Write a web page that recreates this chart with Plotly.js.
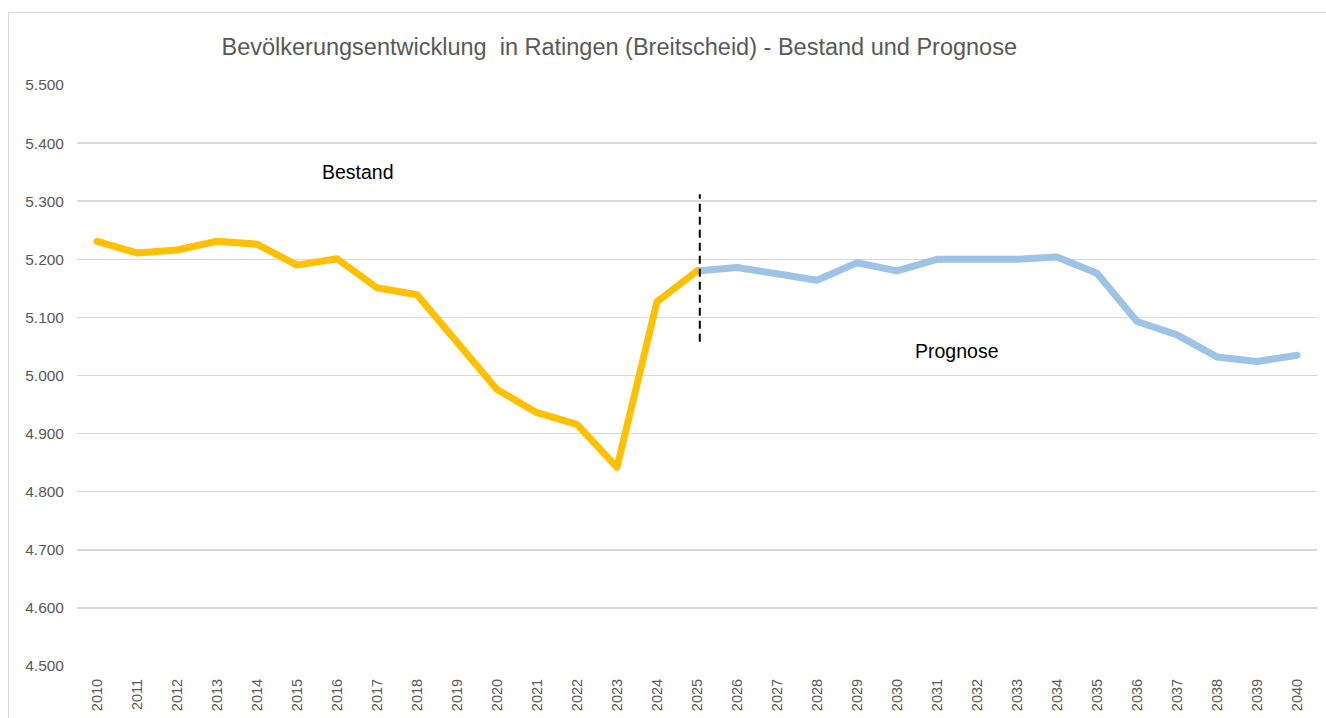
<!DOCTYPE html>
<html>
<head>
<meta charset="utf-8">
<script src="https://cdn.plot.ly/plotly-3.0.1.min.js"></script>
<style>
  html, body { margin: 0; padding: 0; background: #ffffff; overflow: hidden; }
  #wrap { position: relative; width: 1326px; height: 718px; }
  #chart { position: absolute; left: 0; top: 0; width: 1326px; height: 718px; }
  #frame { position: absolute; left: 8px; top: 12px; width: 1400px; height: 800px;
           border: 1.5px solid #d9d9d9; pointer-events: none; box-sizing: border-box; }
  .scatterlayer path.js-line { stroke-linejoin: round; stroke-linecap: round; }
</style>
</head>
<body>
<div id="wrap">
  <div id="chart"></div>
  <div id="frame"></div>
</div>
<script>
// ---- data ----
const years = ['2010','2011','2012','2013','2014','2015','2016','2017','2018','2019',
               '2020','2021','2022','2023','2024','2025','2026','2027','2028','2029',
               '2030','2031','2032','2033','2034','2035','2036','2037','2038','2039','2040'];
const bestandYears = years.slice(0, 16);
const bestandValues = [5231, 5211, 5216, 5231, 5226, 5190, 5201, 5151, 5139, 5058,
                       4976, 4936, 4916, 4842, 5127, 5180];
const prognoseYears = years.slice(15);
const prognoseValues = [5180, 5186, 5175, 5164, 5194, 5180, 5200, 5200, 5200, 5204,
                        5176, 5093, 5070, 5032, 5024, 5035];
const titleText = 'Bevölkerungsentwicklung\u00a0 in Ratingen (Breitscheid) - Bestand und Prognose';
const labelBestand = { text: 'Bestand', x: 6.52, y: 5350 };
const labelPrognose = { text: 'Prognose', x: 21.49, y: 5042 };
const dividerYear = '2025';
const dividerRange = [5058, 5312];
const yRange = [4500, 5500];

const font = '"Liberation Sans", Arial, sans-serif';
const dividerX = years.indexOf(dividerYear) + 0.07;

const traces = [
  { type: 'scatter', mode: 'lines', x: prognoseYears, y: prognoseValues,
    line: { color: '#9DC3E6', width: 7 }, hoverinfo: 'skip', showlegend: false },
  { type: 'scatter', mode: 'lines', x: bestandYears, y: bestandValues,
    line: { color: '#FFC000', width: 7 }, hoverinfo: 'skip', showlegend: false }
];

const layout = {
  width: 1326, height: 718,
  margin: { l: 77, r: 9, t: 85, b: 52 },
  paper_bgcolor: '#ffffff', plot_bgcolor: '#ffffff',
  separators: ',.',
  showlegend: false,
  title: {
    text: titleText,
    font: { family: font, size: 23.5, color: '#595959' },
    xref: 'container', yref: 'container',
    x: 0.467, xanchor: 'center', y: 1 - 47/718, yanchor: 'middle'
  },
  xaxis: {
    type: 'category',
    categoryorder: 'array', categoryarray: years,
    range: [-0.5, years.length - 0.5],
    tickangle: -90,
    tickfont: { family: font, size: 14.5, color: '#595959' },
    showgrid: false, showline: false, zeroline: false,
    ticks: '', ticklabelstandoff: 9,
    fixedrange: true
  },
  yaxis: {
    range: yRange,
    dtick: 100, tick0: 4500,
    tickformat: ',d',
    tickfont: { family: font, size: 15.5, color: '#595959' },
    showgrid: true, gridcolor: '#d9d9d9', gridwidth: 1.5,
    zeroline: false, showline: false, ticks: '',
    ticklabelstandoff: 12,
    fixedrange: true
  },
  annotations: [
    { text: labelBestand.text, x: labelBestand.x, y: labelBestand.y, xref: 'x', yref: 'y',
      showarrow: false, font: { family: font, size: 19.5, color: '#000000' } },
    { text: labelPrognose.text, x: labelPrognose.x, y: labelPrognose.y, xref: 'x', yref: 'y',
      showarrow: false, font: { family: font, size: 19.5, color: '#000000' } }
  ],
  shapes: [
    { type: 'line', xref: 'x', yref: 'y', layer: 'above',
      x0: dividerX, x1: dividerX,
      y0: dividerRange[0], y1: dividerRange[1],
      line: { color: '#000000', width: 2, dash: '8px,5px' } }
  ]
};

Plotly.newPlot('chart', traces, layout, { staticPlot: true, displayModeBar: false });
</script>
</body>
</html>
